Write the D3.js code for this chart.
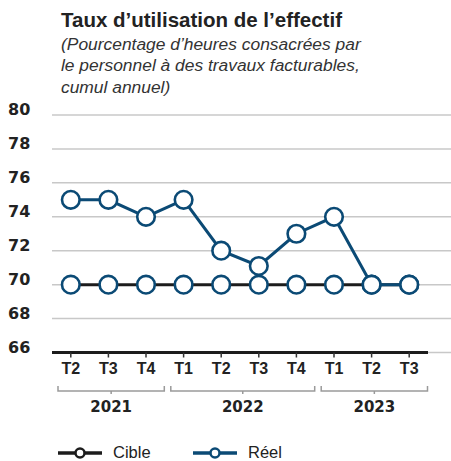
<!DOCTYPE html>
<html><head><meta charset="utf-8">
<script src="https://cdn.jsdelivr.net/npm/d3@7"></script>
<style>body{margin:0;background:#fff}svg{display:block}</style>
</head><body>
<script>
const quarters = ["T2","T3","T4","T1","T2","T3","T4","T1","T2","T3"];
const years = ["2021","2022","2023"];
const yearSpans = [[0,2],[3,6],[7,9]];
const cible = [70,70,70,70,70,70,70,70,70,70];
const reel = [75,75,74,75,72,71.1,73,74,70,70];
const yTicks = [66,68,70,72,74,76,78,80];
const title = "Taux d\u2019utilisation de l\u2019effectif";
const subtitle = ["(Pourcentage d\u2019heures consacr\u00e9es par","le personnel \u00e0 des travaux facturables,","cumul annuel)"];
const seriesNames = ["Cible","R\u00e9el"];

const W=451,H=461;
const BLUE="#0b4a75", BLACK="#1c1c1c";
const svg=d3.select("body").append("svg").attr("width",W).attr("height",H);
const font="'Liberation Sans', Arial, sans-serif";
const wide="'DejaVu Sans', sans-serif";

svg.append("text").attr("x",61).attr("y",27).attr("font-family",font).attr("font-weight","bold")
  .attr("font-size",20.5).attr("fill","#222").text(title);
subtitle.forEach((s,i)=>svg.append("text").attr("x",61).attr("y",50+i*21.3).attr("font-family",font)
  .attr("font-style","italic").attr("font-size",17.4).attr("fill","#333").text(s));

const idx=d3.range(quarters.length);
const x=d3.scaleBand().domain(idx).range([52,428]).padding(0);
const cx=i=>x(i)+x.bandwidth()/2;
const y=d3.scaleLinear().domain([66,80]).range([352.5,115]);

// grid
svg.append("g").selectAll("line").data(yTicks).join("line")
  .attr("x1",52).attr("x2",451).attr("y1",d=>y(d)).attr("y2",d=>y(d))
  .attr("stroke","#c8c8c8").attr("stroke-width",1.5);
svg.append("g").selectAll("text").data(yTicks).join("text")
  .attr("x",8).attr("y",d=>y(d)).attr("font-family",wide).attr("font-weight","bold")
  .attr("font-size",16).attr("fill","#222").text(d=>d);

// x axis
const xAxis=d3.axisBottom(x).tickFormat(i=>quarters[i]).tickSize(5).tickPadding(5);
const gx=svg.append("g").attr("transform",`translate(0,${y(66)})`).call(xAxis);
gx.select(".domain").attr("stroke",BLACK).attr("stroke-width",3).attr("d","M52,0H428");
gx.selectAll(".tick line").attr("stroke","#333").attr("stroke-width",1.5);
gx.selectAll(".tick text").attr("font-family",font).attr("font-weight","bold").attr("font-size",16).attr("fill","#222");

// year brackets
const by=391;
yearSpans.forEach((s,k)=>{
  const x0=x(s[0])+6, x1=x(s[1])+x.bandwidth()-0.5;
  const g=svg.append("g");
  g.append("path").attr("d",`M${x0},${by-5}V${by}H${x1}V${by-5}M${(x0+x1)/2},${by}V${by+3}`)
    .attr("fill","none").attr("stroke","#9a9a9a").attr("stroke-width",1.5);
  g.append("text").attr("x",(x0+x1)/2).attr("y",by+20.5).attr("text-anchor","middle")
    .attr("font-family",wide).attr("font-weight","bold").attr("font-size",15).attr("fill","#222").text(years[k]);
});

const line=d3.line().x((d,i)=>cx(i)).y(d=>y(d));
svg.append("path").datum(cible).attr("d",line).attr("fill","none").attr("stroke",BLACK).attr("stroke-width",3);
svg.append("g").selectAll("circle").data(cible).join("circle").attr("cx",(d,i)=>cx(i)).attr("cy",d=>y(d))
  .attr("r",8.8).attr("fill","#fff").attr("stroke",BLUE).attr("stroke-width",2.6);
svg.append("path").datum(reel).attr("d",line).attr("fill","none").attr("stroke",BLUE).attr("stroke-width",3);
svg.append("g").selectAll("circle").data(reel).join("circle").attr("cx",(d,i)=>cx(i)).attr("cy",d=>y(d))
  .attr("r",8.8).attr("fill","#fff").attr("stroke",BLUE).attr("stroke-width",2.6);

// legend
const ly=453;
[[58,BLACK],[193,BLUE]].forEach(([lx,c],k)=>{
  svg.append("line").attr("x1",lx).attr("x2",lx+44).attr("y1",ly).attr("y2",ly).attr("stroke",c).attr("stroke-width",3.5);
  svg.append("circle").attr("cx",lx+22).attr("cy",ly).attr("r",4.5).attr("fill","#fff").attr("stroke",c).attr("stroke-width",2.5);
  svg.append("text").attr("x",lx+55).attr("y",ly+4.5).attr("font-family",font).attr("font-size",16.5).attr("fill","#222").text(seriesNames[k]);
});
</script></body></html>
